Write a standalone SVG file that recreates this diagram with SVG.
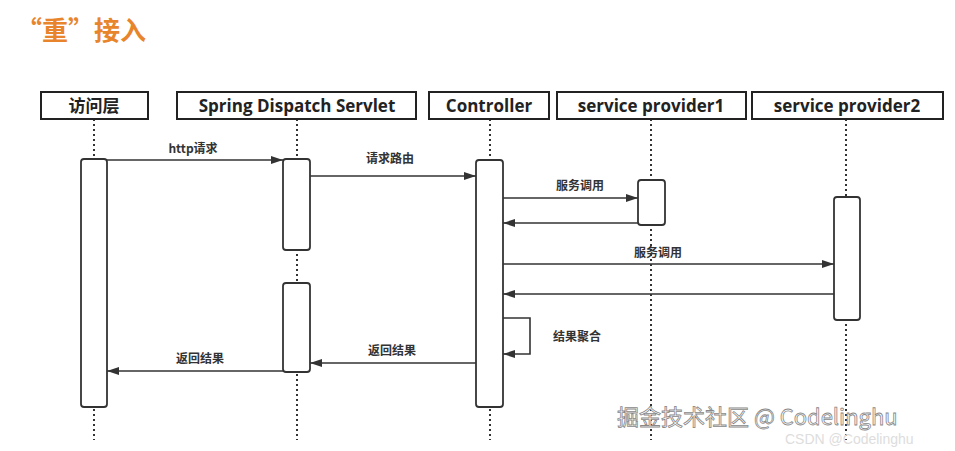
<svg xmlns="http://www.w3.org/2000/svg" width="955" height="451" viewBox="0 0 955 451">
<style>
.hd{fill:#fff;stroke:#222;stroke-width:2}
.ht{font-family:"Open Sans","Noto Sans CJK SC",sans-serif;font-weight:bold;font-size:17px;fill:#222;text-anchor:middle}
.ll{stroke:#333;stroke-width:2;stroke-dasharray:2 3}
.act{fill:#fff;stroke:#333;stroke-width:1.8}
.m{stroke:#333;stroke-width:1.6;fill:none;marker-end:url(#a)}
.lb{font-family:"Noto Sans CJK SC",sans-serif;font-weight:bold;font-size:12px;fill:#333;text-anchor:middle}
</style>
<defs><marker id="a" markerWidth="12" markerHeight="8" refX="12" refY="4" orient="auto" markerUnits="userSpaceOnUse"><path d="M0,0L12,4L0,8z" fill="#333"/></marker></defs>
<rect width="955" height="451" fill="#fff"/>
<text x="16" y="40" font-family="Noto Sans CJK SC,sans-serif" font-weight="bold" font-size="26" fill="#e8852c">“重”接入</text>
<g id="lifelines">
<line class="ll" x1="94" y1="119" x2="94" y2="440"/><line class="ll" x1="297" y1="119" x2="297" y2="440"/><line class="ll" x1="490" y1="119" x2="490" y2="440"/><line class="ll" x1="651" y1="119" x2="651" y2="440"/><line class="ll" x1="846" y1="119" x2="846" y2="440"/>
</g>
<g id="n1"><rect class="hd" x="41" y="92" width="107" height="27"/><text class="ht" x="94" y="112">访问层</text><rect class="act" x="81" y="159" width="26" height="248" rx="3"/></g>
<g id="n2"><rect class="hd" x="177" y="92" width="239" height="27"/><text class="ht" x="297" y="112">Spring Dispatch Servlet</text><rect class="act" x="283" y="159" width="27" height="91" rx="3"/><rect class="act" x="283" y="283" width="27" height="89" rx="3"/></g>
<g id="n3"><rect class="hd" x="429" y="92" width="120" height="27"/><text class="ht" x="489" y="112">Controller</text><rect class="act" x="476" y="160" width="27" height="247" rx="3"/></g>
<g id="n4"><rect class="hd" x="557" y="92" width="189" height="27"/><text class="ht" x="651" y="112">service provider1</text><rect class="act" x="638" y="180" width="27" height="45" rx="3"/></g>
<g id="n5"><rect class="hd" x="752" y="92" width="191" height="27"/><text class="ht" x="847" y="112">service provider2</text><rect class="act" x="834" y="197" width="26" height="123" rx="3"/></g>
<g id="connectors">
<line class="m" x1="107" y1="160" x2="283" y2="160"/><text class="lb" x="193" y="153">http请求</text>
<line class="m" x1="310" y1="176" x2="476" y2="176"/><text class="lb" x="390" y="163">请求路由</text>
<line class="m" x1="503" y1="198" x2="638" y2="198"/><text class="lb" x="580" y="190">服务调用</text>
<line class="m" x1="638" y1="223" x2="503" y2="223"/>
<line class="m" x1="503" y1="264" x2="834" y2="264"/><text class="lb" x="658" y="257">服务调用</text>
<line class="m" x1="834" y1="294" x2="503" y2="294"/>
<path class="m" d="M503,318H530V354H503"/><text class="lb" x="577" y="341">结果聚合</text>
<line class="m" x1="476" y1="363" x2="310" y2="363"/><text class="lb" x="392" y="355">返回结果</text>
<line class="m" x1="283" y1="371" x2="107" y2="371"/><text class="lb" x="200" y="363">返回结果</text>
</g>
<text x="617" y="425" font-family="Noto Sans CJK SC,sans-serif" font-size="22" fill="#fff" stroke="#888" stroke-width="0.8">掘金技术社区 @ Codelinghu</text>
<text x="785" y="444" font-family="Liberation Sans,sans-serif" font-size="14" fill="#ddd">CSDN @Codelinghu</text>
</svg>
